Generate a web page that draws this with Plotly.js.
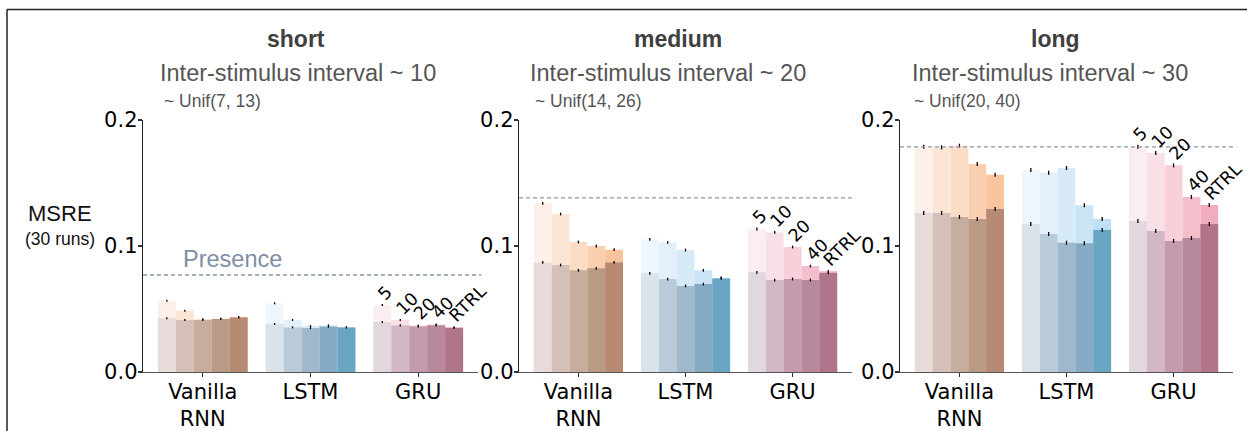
<!DOCTYPE html>
<html>
<head>
<meta charset="utf-8">
<script src="https://cdn.plot.ly/plotly-3.0.1.min.js"></script>
<style>
  html, body { margin: 0; padding: 0; background: #ffffff; }
  #chart { width: 1247px; height: 431px; }
</style>
</head>
<body>
<div id="chart"></div>
<script>
// Task conditions (one subplot each)
const conditions = ['short', 'medium', 'long'];
const intervalMeans = ['10', '20', '30'];
const intervalRanges = ['(7, 13)', '(14, 26)', '(20, 40)'];

// Architectures and truncation windows within each architecture
const architectures = ['Vanilla<br>RNN', 'LSTM', 'GRU'];
const truncations = ['5', '10', '20', '40', 'RTRL'];

// MSRE (mean over 30 runs), ordered Vanilla RNN x5, LSTM x5, GRU x5.
// "upper" = the light (taller) bar, "lower" = the dark bar in front of it.
const shortUpper = [0.0566, 0.0487, 0.0418, 0.0422, 0.0436,
                    0.0545, 0.0413, 0.0365, 0.0370, 0.0355,
                    0.0532, 0.0413, 0.0368, 0.0376, 0.0355];
const shortLower = [0.0426, 0.0413, 0.0412, 0.0420, 0.0432,
                    0.0381, 0.0354, 0.0349, 0.0360, 0.0353,
                    0.0397, 0.0370, 0.0362, 0.0370, 0.0349];

const mediumUpper = [0.1339, 0.1254, 0.1032, 0.1000, 0.0971,
                     0.1053, 0.1029, 0.0968, 0.0807, 0.0746,
                     0.1135, 0.1108, 0.0992, 0.0841, 0.0799];
const mediumLower = [0.0870, 0.0849, 0.0807, 0.0823, 0.0870,
                     0.0783, 0.0738, 0.0683, 0.0698, 0.0743,
                     0.0791, 0.0730, 0.0738, 0.0730, 0.0786];

const longUpper = [0.1788, 0.1783, 0.1796, 0.1651, 0.1566,
                   0.1603, 0.1582, 0.1619, 0.1323, 0.1214,
                   0.1788, 0.1738, 0.1640, 0.1389, 0.1325];
const longLower = [0.1262, 0.1262, 0.1230, 0.1214, 0.1294,
                   0.1175, 0.1095, 0.1026, 0.1021, 0.1127,
                   0.1198, 0.1119, 0.1040, 0.1063, 0.1175];

// Standard error of the mean for each condition (approx.)
const semByCondition = [0.0008, 0.0011, 0.0016];

// "Presence" baseline MSRE for each condition
const presenceBaseline = [0.0770, 0.1382, 0.1786];

const upperSeries = [shortUpper, mediumUpper, longUpper];
const lowerSeries = [shortLower, mediumLower, longLower];

// Colours: light tint for the upper bar, muted shade for the lower bar
const upperColors = [
  '#fdf0ea', '#fde5d6', '#fbdcc4', '#f9cfb0', '#f8c49e',
  '#eff7fd', '#e3f0fa', '#d7eaf7', '#cbe4f5', '#bedff4',
  '#fbeef1', '#f9e0e6', '#f7d0da', '#f4bfcd', '#f1adbe'
];
const lowerColors = [
  '#e6dbd8', '#d4c0b8', '#c7ad9e', '#b99a85', '#b78a73',
  '#dae2ea', '#b9cbd9', '#9fb8cc', '#84aac4', '#6aa4c3',
  '#e2d7df', '#d2b8c6', '#c49bad', '#b8889c', '#b0758b'
];

const W = 1247, H = 431;
const px = v => v / W;
const py = v => 1 - v / H;

// bar positions: 5 adjacent bars per architecture, one empty slot between groups
const xPos = [];
architectures.forEach((a, g) => truncations.forEach((t, i) => xPos.push(g * 6 + i)));
const groupCenters = architectures.map((a, g) => g * 6 + 2);

const xDomains = [[143, 478], [519, 852], [900, 1233]];
const yDomain = [py(372), py(120)];

const tickFont = { family: 'DejaVu Sans', size: 21, color: '#000000' };
const helv = 'Liberation Sans, Arial, sans-serif';

const traces = [];
const layout = {
  width: W, height: H,
  margin: { l: 0, r: 0, t: 0, b: 0 },
  paper_bgcolor: '#ffffff', plot_bgcolor: 'rgba(0,0,0,0)',
  barmode: 'overlay',
  showlegend: false,
  annotations: [],
  shapes: []
};

conditions.forEach((cond, p) => {
  const sfx = p === 0 ? '' : String(p + 1);
  const xa = 'x' + sfx, ya = 'y' + sfx;
  const sem = semByCondition[p];

  [[upperSeries[p], upperColors], [lowerSeries[p], lowerColors]].forEach(([vals, cols]) => {
    traces.push({
      type: 'bar', x: xPos, y: vals, width: 1,
      xaxis: xa, yaxis: ya,
      marker: { color: cols, line: { width: 0 } },
      error_y: { type: 'constant', value: sem, color: '#000000', thickness: 1.3, width: 0 },
      hoverinfo: 'y'
    });
  });

  layout['xaxis' + sfx] = {
    domain: [px(xDomains[p][0]), px(xDomains[p][1])],
    anchor: ya,
    range: [-1.33, 17.33],
    tickvals: groupCenters, ticktext: architectures,
    ticks: 'outside', ticklen: 4, tickwidth: 1.2, tickcolor: '#333333',
    ticklabelstandoff: -4,
    showline: true, linecolor: '#555555', linewidth: 1.3,
    showgrid: false, zeroline: false,
    tickfont: tickFont, fixedrange: true
  };
  layout['yaxis' + sfx] = {
    domain: yDomain,
    anchor: xa,
    range: [0, 0.2],
    tickvals: [0, 0.1, 0.2], ticktext: ['0.0', '0.1', '0.2'],
    ticks: 'outside', ticklen: 4, tickwidth: 1.2, tickcolor: '#333333',
    ticklabelstandoff: -4,
    showline: true, linecolor: '#222222', linewidth: 1.3,
    showgrid: false, zeroline: false,
    tickfont: tickFont, fixedrange: true
  };

  // presence baseline
  layout.shapes.push({
    type: 'line', xref: xa + ' domain', yref: ya,
    x0: 0, x1: 1.01, y0: presenceBaseline[p], y1: presenceBaseline[p],
    line: { color: '#8c98ab', width: 1.3, dash: '4px,3px' }
  });

  // truncation labels above the GRU bars
  truncations.forEach((t, i) => {
    const k = 10 + i;
    layout.annotations.push({
      xref: xa, yref: ya, x: xPos[k] - 0.55, y: upperSeries[p][k],
      text: t, showarrow: false, textangle: -45,
      xanchor: 'left', yanchor: 'bottom', borderpad: 0,
      font: { family: 'DejaVu Sans', size: 17.5, color: '#000000' }
    });
  });
});

// condition titles and interval descriptions
const titleX = [296, 678, 1055];
const subX = [158, 528, 910];
const unifX = [162, 533, 912];
conditions.forEach((cond, p) => {
  layout.annotations.push({
    xref: 'paper', yref: 'paper', x: px(titleX[p]), y: py(39),
    text: cond, showarrow: false, xanchor: 'center', yanchor: 'middle',
    font: { family: helv, size: 23, color: '#404040', weight: 'bold' }
  });
  layout.annotations.push({
    xref: 'paper', yref: 'paper', x: px(subX[p]), y: py(73),
    text: 'Inter-stimulus interval ~ ' + intervalMeans[p], showarrow: false,
    xanchor: 'left', yanchor: 'middle',
    font: { family: helv, size: 23.5, color: '#555555' }
  });
  layout.annotations.push({
    xref: 'paper', yref: 'paper', x: px(unifX[p]), y: py(101),
    text: '~ Unif' + intervalRanges[p], showarrow: false,
    xanchor: 'left', yanchor: 'middle',
    font: { family: helv, size: 17.5, color: '#555555' }
  });
});

// y label
layout.annotations.push({
  xref: 'paper', yref: 'paper', x: px(60), y: py(213),
  text: 'MSRE', showarrow: false, xanchor: 'center', yanchor: 'middle',
  font: { family: helv, size: 22, color: '#111111' }
});
layout.annotations.push({
  xref: 'paper', yref: 'paper', x: px(60), y: py(239),
  text: '(30 runs)', showarrow: false, xanchor: 'center', yanchor: 'middle',
  font: { family: helv, size: 17.5, color: '#111111' }
});

// baseline label
layout.annotations.push({
  xref: 'paper', yref: 'paper', x: px(181), y: py(259),
  text: 'Presence', showarrow: false, xanchor: 'left', yanchor: 'middle',
  font: { family: helv, size: 23.5, color: '#7f8ea5' }
});

// figure frame (top and left edges)
layout.shapes.push({
  type: 'line', xref: 'paper', yref: 'paper',
  x0: px(7), x1: 1, y0: py(9.5), y1: py(9.5),
  line: { color: '#222222', width: 1.5 }
});
layout.shapes.push({
  type: 'line', xref: 'paper', yref: 'paper',
  x0: px(7), x1: px(7), y0: py(9.5), y1: 0,
  line: { color: '#222222', width: 1.5 }
});

Plotly.newPlot('chart', traces, layout, { displayModeBar: false, staticPlot: true });
</script>
</body>
</html>
